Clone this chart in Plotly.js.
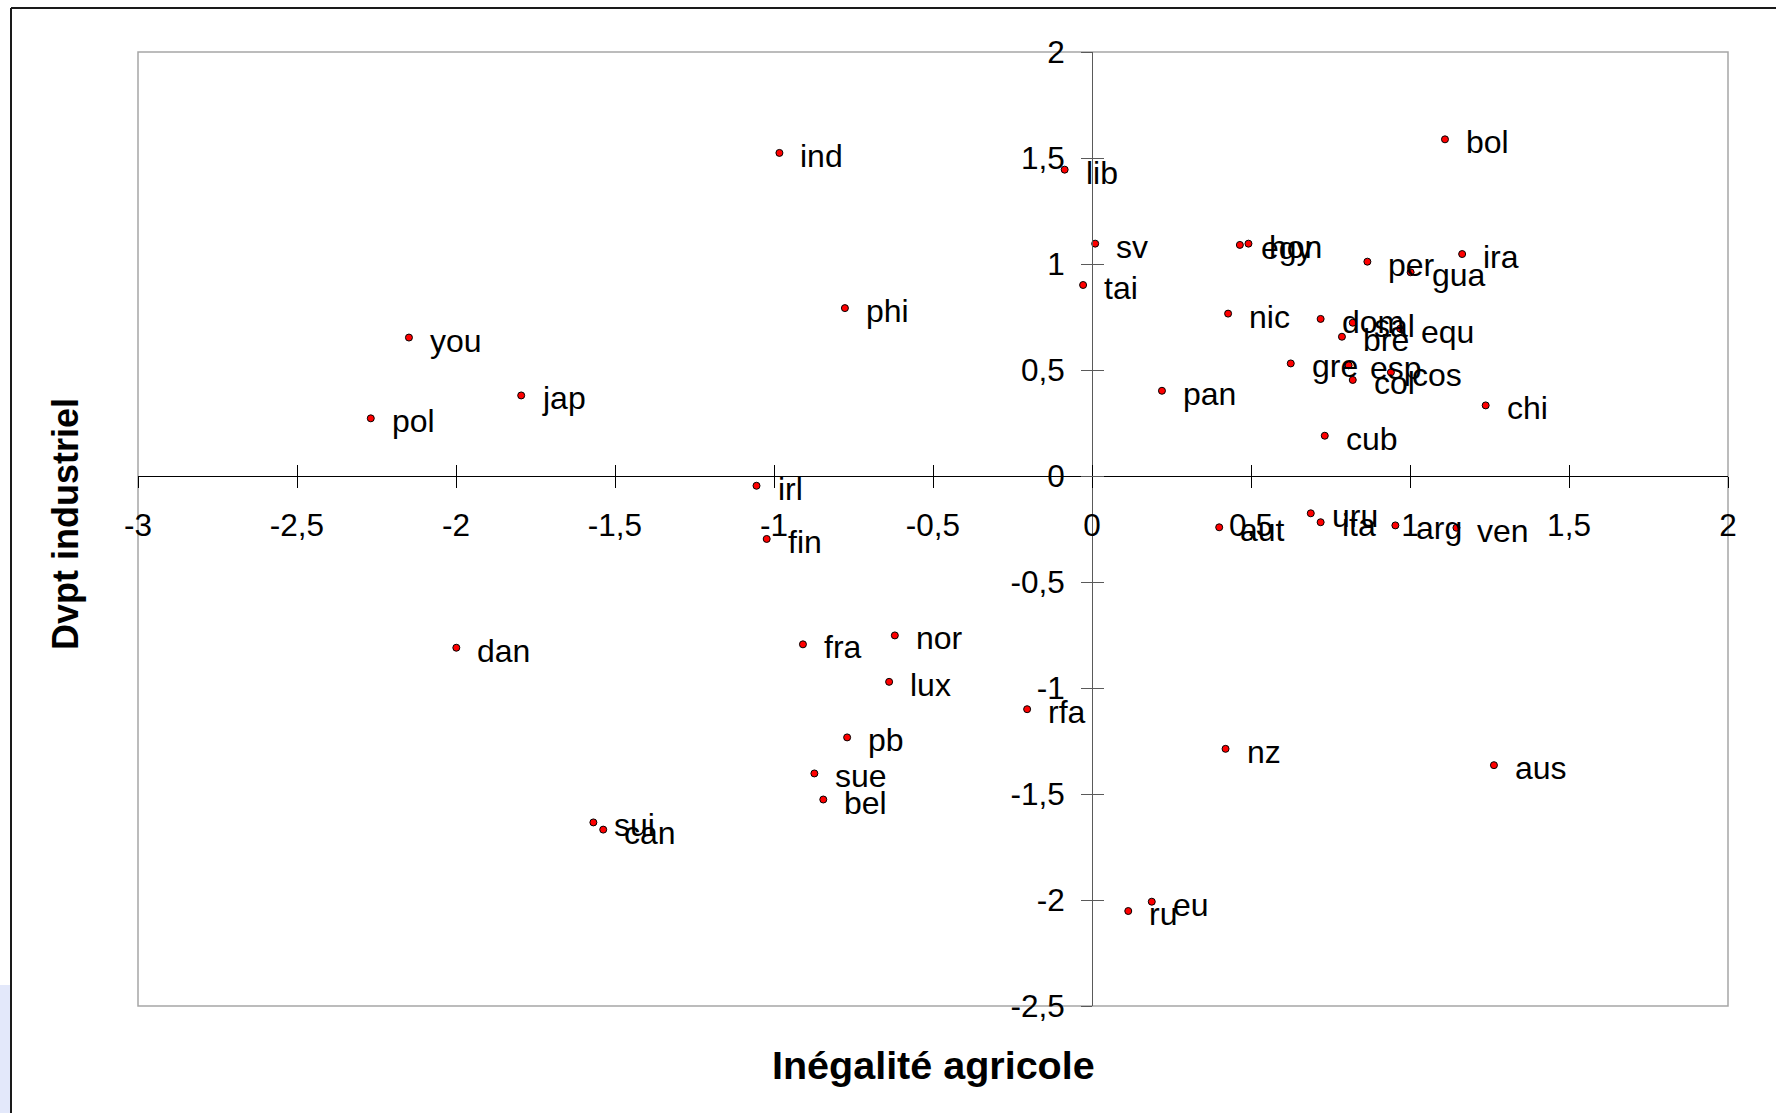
<!DOCTYPE html>
<html><head><meta charset="utf-8">
<script src="https://cdn.plot.ly/plotly-3.0.1.min.js"></script>
<style>html,body{margin:0;padding:0;background:#fff;overflow:hidden;} #chart{width:1776px;height:1113px;}</style>
</head><body><div id="chart"></div>
<script>
// ---- data ----
const countries = ['ind','lib','bol','sv','egy','hon','per','gua','ira','tai','phi','you','nic','dom','sal','equ','bre','gre','esp','cos','col','chi','jap','pan','pol','cub','irl','fin','aut','uru','ita','arg','ven','dan','fra','nor','lux','rfa','pb','nz','aus','sue','bel','sui','can','eu','ru'];
const agri = [-0.983,-0.086,1.110,0.010,0.465,0.492,0.866,1.002,1.164,-0.028,-0.777,-2.148,0.428,0.719,0.820,0.969,0.786,0.625,0.807,0.940,0.820,1.238,-1.795,0.220,-2.268,0.732,-1.055,-1.023,0.400,0.688,0.719,0.954,1.146,-1.999,-0.909,-0.620,-0.638,-0.204,-0.770,0.420,1.264,-0.873,-0.845,-1.568,-1.537,0.188,0.114];
const indus = [1.524,1.445,1.588,1.096,1.090,1.096,1.011,0.961,1.047,0.901,0.792,0.653,0.766,0.741,0.723,0.695,0.657,0.531,0.522,0.489,0.453,0.333,0.380,0.402,0.272,0.190,-0.046,-0.297,-0.242,-0.176,-0.218,-0.233,-0.244,-0.810,-0.794,-0.752,-0.971,-1.100,-1.233,-1.287,-1.364,-1.403,-1.526,-1.634,-1.668,-2.008,-2.052];
const xTickVals = [-3,-2.5,-2,-1.5,-1,-0.5,0,0.5,1,1.5,2];
const xTickText = ['-3','-2,5','-2','-1,5','-1','-0,5','0','0,5','1','1,5','2'];
const yTickVals = [-2.5,-2,-1.5,-1,-0.5,0,0.5,1,1.5,2];
const yTickText = ['-2,5','-2','-1,5','-1','-0,5','0','0,5','1','1,5','2'];
const xTitle = 'Inégalité agricole';
const yTitle = 'Dvpt industriel';

// ---- layout helpers ----
const W = 1776, H = 1113, M = {l:138, r:48, t:52, b:107};
const pw = W - M.l - M.r, ph = H - M.t - M.b;
const fx = p => (p - M.l) / pw;
const fy = p => (H - M.b - p) / ph;
const xRange = [xTickVals[0], xTickVals[xTickVals.length-1]];
const yRange = [yTickVals[0], yTickVals[yTickVals.length-1]];
const xAxisPos = (0 - yRange[0]) / (yRange[1] - yRange[0]);
const yAxisPos = (0 - xRange[0]) / (xRange[1] - xRange[0]);
const FONT = 'Liberation Sans, Arial, Helvetica, sans-serif';
const yAxisCol = '#5a5a5a';

const traces = [
  {type:'scatter', mode:'markers', x:agri, y:indus, xaxis:'x', yaxis:'y',
   marker:{size:7, color:'#ff0000', line:{color:'#000000', width:1}},
   cliponaxis:false, hoverinfo:'none', showlegend:false},
  {type:'scatter', mode:'markers', x:[], y:[], xaxis:'x2', yaxis:'y2', showlegend:false, hoverinfo:'none'}
];

const labelAnns = countries.map((c,i)=>({
  x:agri[i], y:indus[i], xref:'x', yref:'y', text:c, showarrow:false,
  xanchor:'left', yanchor:'middle', xshift:19, yshift:-3,
  font:{family:FONT, size:32, color:'#000'}
}));

const titleAnns = [
  {text:'<b>'+xTitle+'</b>', xref:'paper', yref:'paper', x:fx(933), y:fy(1065), xanchor:'center', yanchor:'middle', showarrow:false, font:{family:FONT, size:39.5, color:'#000'}},
  {text:'<b>'+yTitle+'</b>', xref:'paper', yref:'paper', x:fx(65), y:fy(524), xanchor:'center', yanchor:'middle', textangle:-90, showarrow:false, font:{family:FONT, size:36, color:'#000'}}
];

const common = {showgrid:false, zeroline:false, fixedrange:true, tickmode:'array'};

const layout = {
  width:W, height:H, margin:M, paper_bgcolor:'#ffffff', plot_bgcolor:'#ffffff',
  showlegend:false, separators:', ', font:{family:FONT, color:'#000'},
  xaxis: Object.assign({}, common, {range:xRange, anchor:'free', position:xAxisPos,
    showline:true, linecolor:'#000', linewidth:1, ticks:'outside', ticklen:11, tickwidth:1, tickcolor:'#000',
    tickvals:xTickVals, ticktext:xTickText, tickfont:{family:FONT, size:31.5, color:'#000'}, ticklabelstandoff:10}),
  xaxis2: Object.assign({}, common, {range:xRange, overlaying:'x', anchor:'free', position:xAxisPos,
    showline:false, ticks:'inside', ticklen:11, tickwidth:1, tickcolor:'#000', tickvals:xTickVals, showticklabels:false}),
  yaxis: Object.assign({}, common, {range:yRange, anchor:'free', position:yAxisPos,
    showline:true, linecolor:yAxisCol, linewidth:1, ticks:'outside', ticklen:11, tickwidth:1, tickcolor:yAxisCol,
    tickvals:yTickVals, ticktext:yTickText, tickfont:{family:FONT, size:31.5, color:'#000'}, ticklabelstandoff:10}),
  yaxis2: Object.assign({}, common, {range:yRange, overlaying:'y', anchor:'free', position:yAxisPos,
    showline:false, ticks:'inside', ticklen:11, tickwidth:1, tickcolor:yAxisCol, tickvals:yTickVals, showticklabels:false}),
  shapes: [
    {type:'rect', xref:'paper', yref:'paper', x0:0, x1:1, y0:0, y1:1, line:{color:'#a6a6a6', width:1.5}, fillcolor:'rgba(0,0,0,0)', layer:'below'},
    {type:'rect', xref:'paper', yref:'paper', x0:fx(0), x1:fx(10), y0:fy(1113), y1:fy(985), line:{width:0}, fillcolor:'#e3e8fa', layer:'below'},
    {type:'line', xref:'paper', yref:'paper', x0:fx(11), x1:fx(11), y0:fy(8), y1:fy(1113), line:{color:'#1a1a1a', width:2}},
    {type:'line', xref:'paper', yref:'paper', x0:fx(11), x1:fx(1776), y0:fy(8), y1:fy(8), line:{color:'#1a1a1a', width:2}}
  ],
  annotations: labelAnns.concat(titleAnns)
};

Plotly.newPlot('chart', traces, layout, {staticPlot:true, displayModeBar:false});
</script>
</body></html>
